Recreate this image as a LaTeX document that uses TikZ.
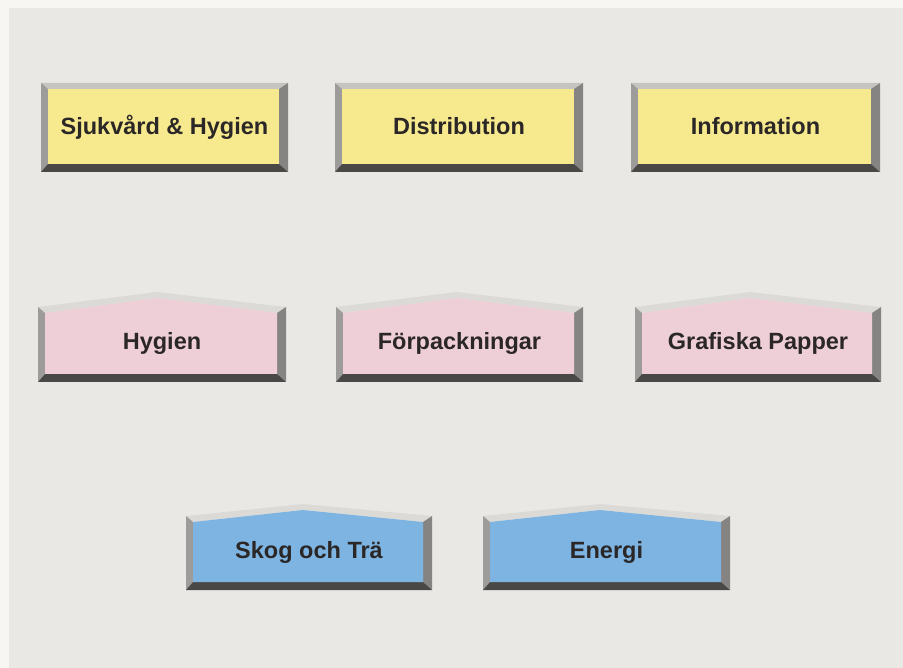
\documentclass[tikz,border=0pt]{standalone}
\usepackage{fontspec}
\setmainfont{Liberation Sans}
\definecolor{outerbg}{HTML}{F8F6F3}
\definecolor{panel}{HTML}{EAE8E5}
\definecolor{yface}{HTML}{F7E98E}
\definecolor{pface}{HTML}{EECFD7}
\definecolor{bface}{HTML}{7DB4E2}
\definecolor{btopc}{HTML}{C6C4C1}
\definecolor{btoppk}{HTML}{DCDAD7}
\definecolor{bleftc}{HTML}{9E9C9A}
\definecolor{brightc}{HTML}{868482}
\definecolor{bbotc}{HTML}{4A4846}
\definecolor{txt}{HTML}{2B2727}
\tikzset{
  lbl/.style={anchor=base, inner sep=0pt, text=txt, font=\fontsize{23.5}{26}\selectfont\bfseries},
  btop/.style={fill=btopc},
  btoppeak/.style={fill=btoppk},
  bleft/.style={fill=bleftc},
  bright/.style={fill=brightc},
  bbot/.style={fill=bbotc}
}
% flat box: name, x1, x2, y1, y2, face colour, text
\newcommand\flatbox[7]{%
  \fill[btop] (#2,#4) -- (#3,#4) -- (#3-9,#4+6) -- (#2+7,#4+6) -- cycle;
  \fill[bleft] (#2,#4) -- (#2+7,#4+6) -- (#2+7,#5-8) -- (#2,#5) -- cycle;
  \fill[bright] (#3,#4) -- (#3-9,#4+6) -- (#3-9,#5-8) -- (#3,#5) -- cycle;
  \fill[bbot] (#2,#5) -- (#2+7,#5-8) -- (#3-9,#5-8) -- (#3,#5) -- cycle;
  \fill[#6] (#2+7,#4+6) rectangle (#3-9,#5-8);
  \node[lbl] (#1) at ({(#2+#3)/2},{#5-37}) {#7};
}
% peaked box: name, x1, x2, shoulder y, peak y, peak x, bottom y, face colour, text
\newcommand\peakbox[9]{%
  \fill[btoppeak] (#2,#4) -- (#6,#5) -- (#3,#4) -- (#3-9,#4+6) -- (#6,#5+6) -- (#2+7,#4+6) -- cycle;
  \fill[bleft] (#2,#4) -- (#2+7,#4+6) -- (#2+7,#7-8) -- (#2,#7) -- cycle;
  \fill[bright] (#3,#4) -- (#3-9,#4+6) -- (#3-9,#7-8) -- (#3,#7) -- cycle;
  \fill[bbot] (#2,#7) -- (#2+7,#7-8) -- (#3-9,#7-8) -- (#3,#7) -- cycle;
  \fill[#8] (#2+7,#4+6) -- (#6,#5+6) -- (#3-9,#4+6) -- (#3-9,#7-8) -- (#2+7,#7-8) -- cycle;
  \node[lbl] (#1) at ({(#2+#3)/2},{#7-32}) {#9};
}
\begin{document}
\begin{tikzpicture}[x=1pt,y=-1pt]
\useasboundingbox (0,0) rectangle (903,668);
\fill[outerbg] (0,0) rectangle (903,668);
\fill[panel] (9,8) rectangle (903,668);
% yellow row
\flatbox{sjuk}{41}{288}{83}{172}{yface}{Sjukvård \& Hygien}
\flatbox{dist}{335}{583}{83}{172}{yface}{Distribution}
\flatbox{info}{631}{880}{83}{172}{yface}{Information}
% pink row
\peakbox{hyg}{38}{286}{307}{292}{157}{382}{pface}{Hygien}
\peakbox{forp}{336}{583}{307}{292}{457}{382}{pface}{Förpackningar}
\peakbox{graf}{635}{881}{307}{292}{750}{382}{pface}{Grafiska Papper}
% blue row
\peakbox{skog}{186}{432}{516}{504}{303}{590}{bface}{Skog och Trä}
\peakbox{energi}{483}{730}{516}{504}{600}{590}{bface}{Energi}
\end{tikzpicture}
\end{document}
